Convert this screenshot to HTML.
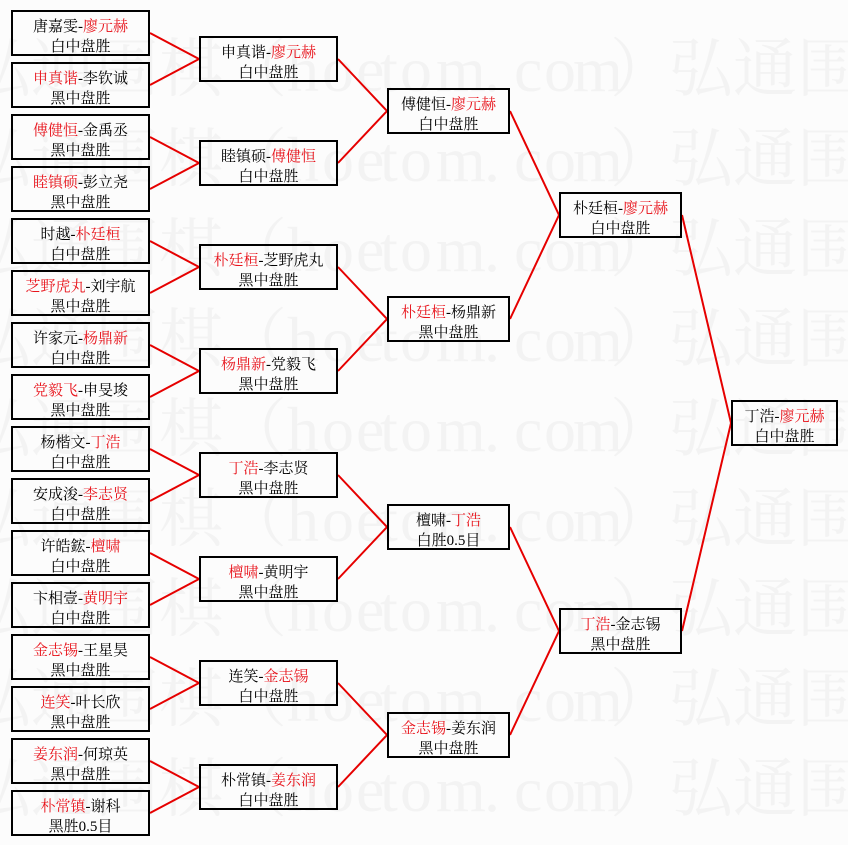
<!DOCTYPE html>
<html>
<head>
<meta charset="utf-8">
<style>
html,body{margin:0;padding:0;background:#fcfcfc;}
svg{display:block;}
.wm{font-family:"Liberation Serif","Noto Serif CJK SC",serif;font-size:64px;fill:#f3f3f3;}
.t{font-family:"Liberation Serif","Noto Serif CJK SC",serif;font-size:15px;fill:#000;text-anchor:middle;}
.r{fill:#e8141c;}
.b{fill:none;stroke:#000;stroke-width:2;}
.l{fill:none;stroke:#e60000;stroke-width:2;}
</style>
</head>
<body>
<svg width="848" height="845" viewBox="0 0 848 845" xmlns="http://www.w3.org/2000/svg">
<rect x="0" y="0" width="848" height="845" fill="#fcfcfc"/>
<!-- watermark -->
<g class="wm">
<text y="91" x="-33 31 95 159 223 287 322 356 380 400 436 484 514 544 573 610 669 733 797">弘通围棋（hoetom.com）弘通围</text>
<text y="181" x="-33 31 95 159 223 287 322 356 380 400 436 484 514 544 573 610 669 733 797">弘通围棋（hoetom.com）弘通围</text>
<text y="271" x="-33 31 95 159 223 287 322 356 380 400 436 484 514 544 573 610 669 733 797">弘通围棋（hoetom.com）弘通围</text>
<text y="361" x="-33 31 95 159 223 287 322 356 380 400 436 484 514 544 573 610 669 733 797">弘通围棋（hoetom.com）弘通围</text>
<text y="451" x="-33 31 95 159 223 287 322 356 380 400 436 484 514 544 573 610 669 733 797">弘通围棋（hoetom.com）弘通围</text>
<text y="541" x="-33 31 95 159 223 287 322 356 380 400 436 484 514 544 573 610 669 733 797">弘通围棋（hoetom.com）弘通围</text>
<text y="631" x="-33 31 95 159 223 287 322 356 380 400 436 484 514 544 573 610 669 733 797">弘通围棋（hoetom.com）弘通围</text>
<text y="721" x="-33 31 95 159 223 287 322 356 380 400 436 484 514 544 573 610 669 733 797">弘通围棋（hoetom.com）弘通围</text>
<text y="811" x="-33 31 95 159 223 287 322 356 380 400 436 484 514 544 573 610 669 733 797">弘通围棋（hoetom.com）弘通围</text>
</g>

<!-- connectors -->
<g class="l">
<polyline points="150,33 199,59 150,85"/>
<polyline points="150,137 199,163 150,189"/>
<polyline points="150,241 199,267 150,293"/>
<polyline points="150,345 199,371 150,397"/>
<polyline points="150,449 199,475 150,501"/>
<polyline points="150,553 199,579 150,605"/>
<polyline points="150,657 199,683 150,709"/>
<polyline points="150,761 199,787 150,813"/>
<polyline points="338,59 387,111 338,163"/>
<polyline points="338,267 387,319 338,371"/>
<polyline points="338,475 387,527 338,579"/>
<polyline points="338,683 387,735 338,787"/>
<polyline points="510,111 559,215 510,319"/>
<polyline points="510,527 559,631 510,735"/>
<polyline points="682,215 731,423 682,631"/>
</g>

<!-- round 1 boxes -->
<g class="b">
<rect x="12" y="11" width="137" height="44"/>
<rect x="12" y="63" width="137" height="44"/>
<rect x="12" y="115" width="137" height="44"/>
<rect x="12" y="167" width="137" height="44"/>
<rect x="12" y="219" width="137" height="44"/>
<rect x="12" y="271" width="137" height="44"/>
<rect x="12" y="323" width="137" height="44"/>
<rect x="12" y="375" width="137" height="44"/>
<rect x="12" y="427" width="137" height="44"/>
<rect x="12" y="479" width="137" height="44"/>
<rect x="12" y="531" width="137" height="44"/>
<rect x="12" y="583" width="137" height="44"/>
<rect x="12" y="635" width="137" height="44"/>
<rect x="12" y="687" width="137" height="44"/>
<rect x="12" y="739" width="137" height="44"/>
<rect x="12" y="791" width="137" height="44"/>
<!-- round 2 -->
<rect x="200" y="37" width="137" height="44"/>
<rect x="200" y="141" width="137" height="44"/>
<rect x="200" y="245" width="137" height="44"/>
<rect x="200" y="349" width="137" height="44"/>
<rect x="200" y="453" width="137" height="44"/>
<rect x="200" y="557" width="137" height="44"/>
<rect x="200" y="661" width="137" height="44"/>
<rect x="200" y="765" width="137" height="44"/>
<!-- round 3 -->
<rect x="388" y="89" width="121" height="44"/>
<rect x="388" y="297" width="121" height="44"/>
<rect x="388" y="505" width="121" height="44"/>
<rect x="388" y="713" width="121" height="44"/>
<!-- round 4 -->
<rect x="560" y="193" width="121" height="44"/>
<rect x="560" y="609" width="121" height="44"/>
<!-- final -->
<rect x="732" y="401" width="105" height="44"/>
</g>

<!-- round 1 text -->
<g class="t">
<text x="80.5" y="31">唐嘉雯-<tspan class="r">廖元赫</tspan></text>
<text x="80.5" y="51">白中盘胜</text>
<text x="80.5" y="83"><tspan class="r">申真谐</tspan>-李钦诚</text>
<text x="80.5" y="103">黑中盘胜</text>
<text x="80.5" y="135"><tspan class="r">傅健恒</tspan>-金禹丞</text>
<text x="80.5" y="155">黑中盘胜</text>
<text x="80.5" y="187"><tspan class="r">睦镇硕</tspan>-彭立尧</text>
<text x="80.5" y="207">黑中盘胜</text>
<text x="80.5" y="239">时越-<tspan class="r">朴廷桓</tspan></text>
<text x="80.5" y="259">白中盘胜</text>
<text x="80.5" y="291"><tspan class="r">芝野虎丸</tspan>-刘宇航</text>
<text x="80.5" y="311">黑中盘胜</text>
<text x="80.5" y="343">许家元-<tspan class="r">杨鼎新</tspan></text>
<text x="80.5" y="363">白中盘胜</text>
<text x="80.5" y="395"><tspan class="r">党毅飞</tspan>-申旻埈</text>
<text x="80.5" y="415">黑中盘胜</text>
<text x="80.5" y="447">杨楷文-<tspan class="r">丁浩</tspan></text>
<text x="80.5" y="467">白中盘胜</text>
<text x="80.5" y="499">安成浚-<tspan class="r">李志贤</tspan></text>
<text x="80.5" y="519">白中盘胜</text>
<text x="80.5" y="551">许皓鋐-<tspan class="r">檀啸</tspan></text>
<text x="80.5" y="571">白中盘胜</text>
<text x="80.5" y="603">卞相壹-<tspan class="r">黄明宇</tspan></text>
<text x="80.5" y="623">白中盘胜</text>
<text x="80.5" y="655"><tspan class="r">金志锡</tspan>-王星昊</text>
<text x="80.5" y="675">黑中盘胜</text>
<text x="80.5" y="707"><tspan class="r">连笑</tspan>-叶长欣</text>
<text x="80.5" y="727">黑中盘胜</text>
<text x="80.5" y="759"><tspan class="r">姜东润</tspan>-何琼英</text>
<text x="80.5" y="779">黑中盘胜</text>
<text x="80.5" y="811"><tspan class="r">朴常镇</tspan>-谢科</text>
<text x="80.5" y="831">黑胜0.5目</text>

<!-- round 2 text -->
<text x="268.5" y="57">申真谐-<tspan class="r">廖元赫</tspan></text>
<text x="268.5" y="77">白中盘胜</text>
<text x="268.5" y="161">睦镇硕-<tspan class="r">傅健恒</tspan></text>
<text x="268.5" y="181">白中盘胜</text>
<text x="268.5" y="265"><tspan class="r">朴廷桓</tspan>-芝野虎丸</text>
<text x="268.5" y="285">黑中盘胜</text>
<text x="268.5" y="369"><tspan class="r">杨鼎新</tspan>-党毅飞</text>
<text x="268.5" y="389">黑中盘胜</text>
<text x="268.5" y="473"><tspan class="r">丁浩</tspan>-李志贤</text>
<text x="268.5" y="493">黑中盘胜</text>
<text x="268.5" y="577"><tspan class="r">檀啸</tspan>-黄明宇</text>
<text x="268.5" y="597">黑中盘胜</text>
<text x="268.5" y="681">连笑-<tspan class="r">金志锡</tspan></text>
<text x="268.5" y="701">白中盘胜</text>
<text x="268.5" y="785">朴常镇-<tspan class="r">姜东润</tspan></text>
<text x="268.5" y="805">白中盘胜</text>

<!-- round 3 text -->
<text x="448.5" y="109">傅健恒-<tspan class="r">廖元赫</tspan></text>
<text x="448.5" y="129">白中盘胜</text>
<text x="448.5" y="317"><tspan class="r">朴廷桓</tspan>-杨鼎新</text>
<text x="448.5" y="337">黑中盘胜</text>
<text x="448.5" y="525">檀啸-<tspan class="r">丁浩</tspan></text>
<text x="448.5" y="545">白胜0.5目</text>
<text x="448.5" y="733"><tspan class="r">金志锡</tspan>-姜东润</text>
<text x="448.5" y="753">黑中盘胜</text>

<!-- round 4 text -->
<text x="620.5" y="213">朴廷桓-<tspan class="r">廖元赫</tspan></text>
<text x="620.5" y="233">白中盘胜</text>
<text x="620.5" y="629"><tspan class="r">丁浩</tspan>-金志锡</text>
<text x="620.5" y="649">黑中盘胜</text>

<!-- final -->
<text x="784.5" y="421">丁浩-<tspan class="r">廖元赫</tspan></text>
<text x="784.5" y="441">白中盘胜</text>
</g>
</svg>
</body>
</html>
